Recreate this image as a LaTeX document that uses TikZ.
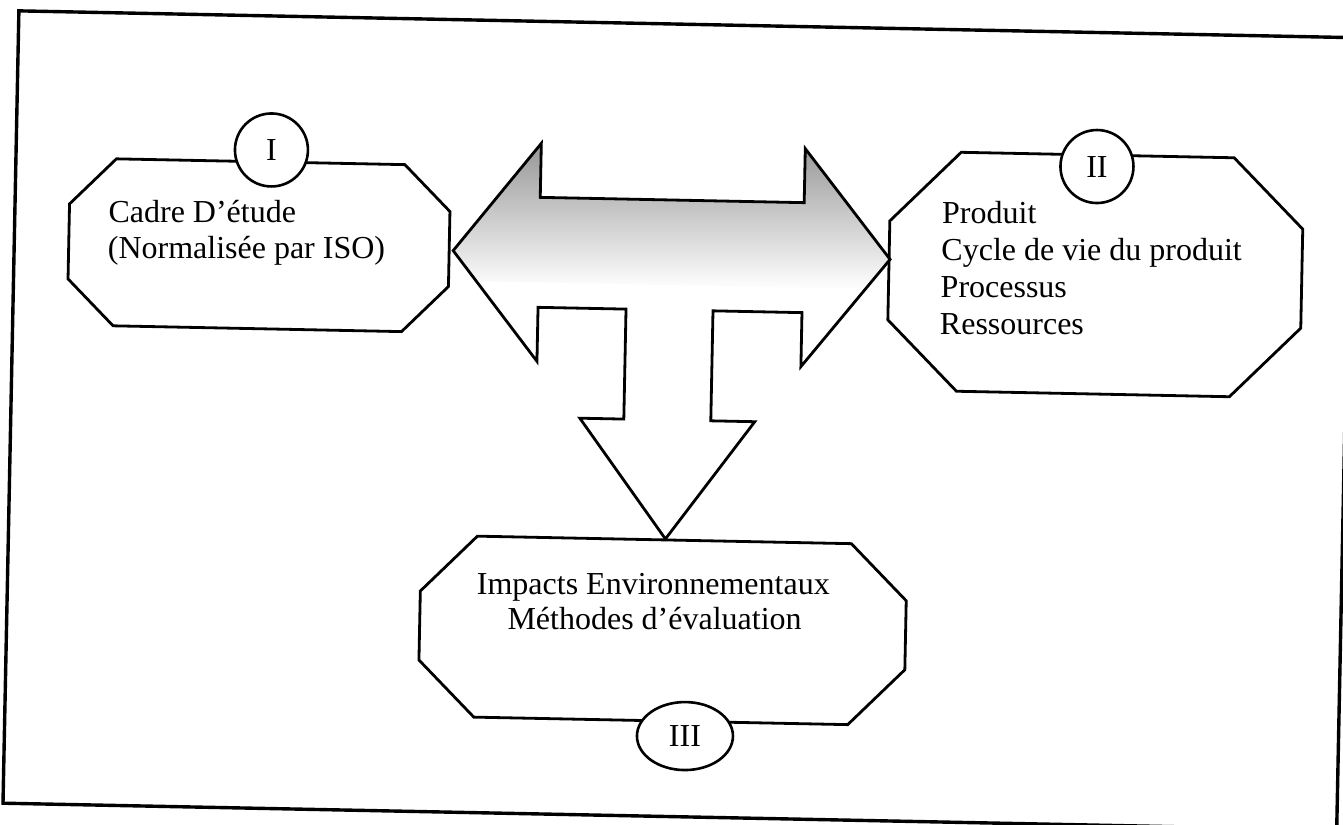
\documentclass[tikz,border=0pt]{standalone}
\usepackage{fontspec}
\setmainfont{Liberation Serif}
\usetikzlibrary{shapes.geometric}
\begin{document}
\begin{tikzpicture}[x=0.5pt,y=-0.5pt,
  outline/.style={draw=black, line width=1.4pt, line join=miter},
  octbox/.style={outline, fill=white},
  txt/.style={inner sep=0pt, font=\fontsize{16}{18}\selectfont},
  badge/.style={circle, draw=black, line width=1.3pt, fill=white, inner sep=0pt,
    minimum size=36.5pt, font=\fontsize{16}{18}\selectfont},
  ovalbadge/.style={ellipse, draw=black, line width=1.3pt, fill=white, inner sep=0pt,
    minimum width=48pt, minimum height=34pt, font=\fontsize{16}{18}\selectfont},
]
\useasboundingbox (0,0) rectangle (1343,824);
\clip (0,0) rectangle (1343,824);
\begin{scope}[rotate around={-1.15:(670,410)}]
  % outer frame
  \draw[line width=1.7pt] (11,24) rectangle (1345,816.5);

  % box I
  \draw[octbox] (111.5,170) -- (400,170) -- (446,216) -- (446,291) -- (400,337)
    -- (111.5,337) -- (65.5,291) -- (65.5,216) -- cycle;
  % box II
  \draw[octbox] (956,146.5) -- (1229,146.5) -- (1299,216.5) -- (1299,315.5)
    -- (1229,385.5) -- (956,385.5) -- (886,315.5) -- (886,216.5) -- cycle;
  % box III
  \draw[octbox] (480,540) -- (854,540) -- (910,596) -- (910,665) -- (854,721)
    -- (480,721) -- (424,665) -- (424,596) -- cycle;

  % T-shaped block arrow with shaded upper part
  \def\arrowpath{(450,255) -- (536,146) -- (536,200) -- (800,200) -- (800,146)
    -- (887,255) -- (800,364) -- (800,310) -- (711,310) -- (711,420) -- (755,420)
    -- (668,539) -- (580,420) -- (624,420) -- (624,310) -- (536,310) -- (536,364) -- cycle}
  \fill[white] \arrowpath;
  \begin{scope}
    \clip \arrowpath;
    \shade[top color=black!42, middle color=black!16, bottom color=white]
      (440,144) rectangle (900,285);
  \end{scope}
  \draw[outline] \arrowpath;

  % badges
  \node[badge] (nI) at (266.3,158) {I};
  \node[badge] (nII) at (1092,158) {II};
  \node[ovalbadge] (nIII) at (691.5,735.7) {III};

  % texts
  \node[txt, anchor=base west] (tIa) at (104.5,234) {Cadre D’étude};
  \node[txt, anchor=base west] (tIb) at (104.5,269.6) {(Normalisée par ISO)};
  \node[txt, anchor=base west] (tIIa) at (938,218) {Produit};
  \node[txt, anchor=base west] (tIIb) at (938,255.2) {Cycle de vie du produit};
  \node[txt, anchor=base west] (tIIc) at (938,292.4) {Processus};
  \node[txt, anchor=base west] (tIId) at (938,329.6) {Ressources};
  \node[txt, anchor=base] (tIIIa) at (657,594.3) {Impacts Environnementaux};
  \node[txt, anchor=base] (tIIIb) at (659,629.6) {Méthodes d’évaluation};
\end{scope}
\end{tikzpicture}
\end{document}
